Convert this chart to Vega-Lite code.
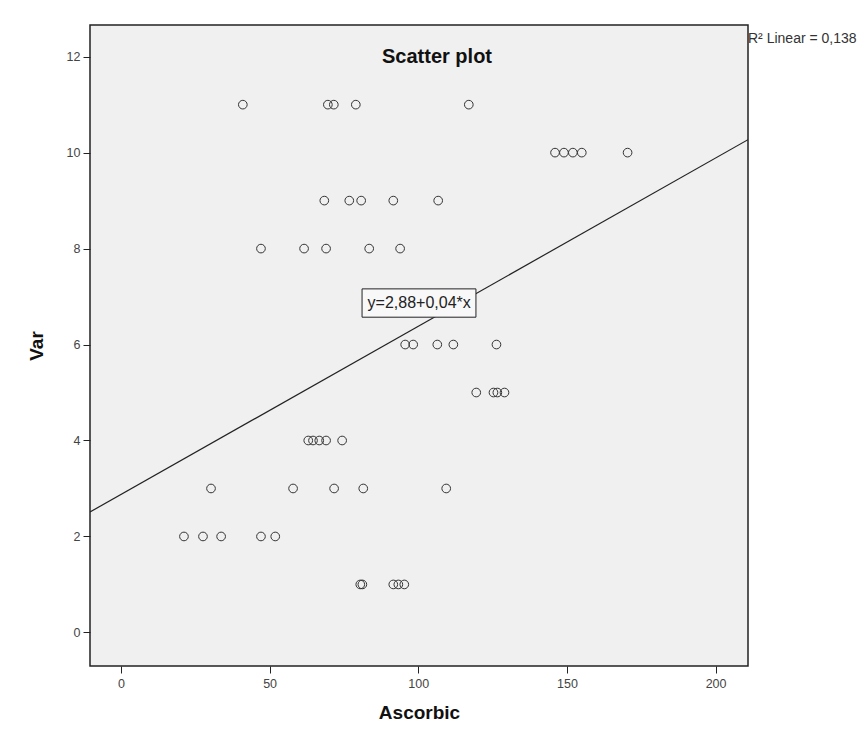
{
  "$schema": "https://vega.github.io/schema/vega-lite/v6.json",
  "width": 658,
  "height": 641,
  "autosize": {"type": "none"},
  "padding": {"left": 90, "top": 25, "right": 115, "bottom": 77},
  "background": "white",
  "config": {
    "view": {"fill": "#f0f0f0", "stroke": "#222222", "strokeWidth": 1.5},
    "font": "Liberation Sans"
  },
  "title": {
    "text": "Scatter plot",
    "offset": -42,
    "dx": 18,
    "anchor": "middle",
    "fontSize": 20,
    "fontWeight": "bold",
    "font": "Liberation Sans",
    "color": "#111111"
  },
  "datasets": {
    "points": [
      {"Ascorbic": 41, "Var": 11},
      {"Ascorbic": 69.6, "Var": 11},
      {"Ascorbic": 71.6, "Var": 11},
      {"Ascorbic": 79, "Var": 11},
      {"Ascorbic": 117, "Var": 11},
      {"Ascorbic": 146, "Var": 10},
      {"Ascorbic": 149, "Var": 10},
      {"Ascorbic": 152, "Var": 10},
      {"Ascorbic": 155, "Var": 10},
      {"Ascorbic": 170.4, "Var": 10},
      {"Ascorbic": 68.4, "Var": 9},
      {"Ascorbic": 76.8, "Var": 9},
      {"Ascorbic": 80.8, "Var": 9},
      {"Ascorbic": 91.6, "Var": 9},
      {"Ascorbic": 106.7, "Var": 9},
      {"Ascorbic": 47.1, "Var": 8},
      {"Ascorbic": 61.6, "Var": 8},
      {"Ascorbic": 69, "Var": 8},
      {"Ascorbic": 83.5, "Var": 8},
      {"Ascorbic": 93.9, "Var": 8},
      {"Ascorbic": 95.6, "Var": 6},
      {"Ascorbic": 98.3, "Var": 6},
      {"Ascorbic": 106.4, "Var": 6},
      {"Ascorbic": 111.8, "Var": 6},
      {"Ascorbic": 126.3, "Var": 6},
      {"Ascorbic": 119.5, "Var": 5},
      {"Ascorbic": 125.3, "Var": 5},
      {"Ascorbic": 126.6, "Var": 5},
      {"Ascorbic": 129, "Var": 5},
      {"Ascorbic": 63, "Var": 4},
      {"Ascorbic": 64.6, "Var": 4},
      {"Ascorbic": 66.7, "Var": 4},
      {"Ascorbic": 69, "Var": 4},
      {"Ascorbic": 74.4, "Var": 4},
      {"Ascorbic": 30.3, "Var": 3},
      {"Ascorbic": 57.9, "Var": 3},
      {"Ascorbic": 71.7, "Var": 3},
      {"Ascorbic": 81.5, "Var": 3},
      {"Ascorbic": 109.4, "Var": 3},
      {"Ascorbic": 21.2, "Var": 2},
      {"Ascorbic": 27.6, "Var": 2},
      {"Ascorbic": 33.7, "Var": 2},
      {"Ascorbic": 47.1, "Var": 2},
      {"Ascorbic": 51.9, "Var": 2},
      {"Ascorbic": 80.5, "Var": 1},
      {"Ascorbic": 81.2, "Var": 1},
      {"Ascorbic": 91.6, "Var": 1},
      {"Ascorbic": 93.3, "Var": 1},
      {"Ascorbic": 95.3, "Var": 1}
    ],
    "fit": [
      {"Ascorbic": -10.4, "Var": 2.51},
      {"Ascorbic": 210.9, "Var": 10.27}
    ]
  },
  "layer": [
    {
      "data": {"name": "points"},
      "mark": {"type": "point", "shape": "circle", "filled": false, "size": 75, "stroke": "#333333", "strokeWidth": 1, "opacity": 1},
      "encoding": {
        "x": {
          "field": "Ascorbic",
          "type": "quantitative",
          "scale": {"domain": [-10.4, 210.9], "nice": false, "zero": false},
          "axis": {
            "values": [0, 50, 100, 150, 200],
            "domain": false,
            "grid": false,
            "tickSize": 7,
            "tickColor": "#222222",
            "labelFontSize": 12.5,
            "labelColor": "#444444",
            "labelPadding": 4,
            "labelFont": "Liberation Sans",
            "title": "Ascorbic",
            "titleFont": "Liberation Sans",
            "titleFontSize": 19,
            "titleFontWeight": "bold",
            "titleColor": "#111111",
            "titlePadding": 14
          }
        },
        "y": {
          "field": "Var",
          "type": "quantitative",
          "scale": {"domain": [-0.7, 12.66], "nice": false, "zero": false},
          "axis": {
            "values": [0, 2, 4, 6, 8, 10, 12],
            "domain": false,
            "grid": false,
            "tickSize": 7,
            "tickColor": "#222222",
            "labelFontSize": 12.5,
            "labelColor": "#444444",
            "labelPadding": 3,
            "labelFont": "Liberation Sans",
            "title": "Var",
            "titleFont": "Liberation Sans",
            "titleFontSize": 19,
            "titleFontWeight": "bold",
            "titleColor": "#111111",
            "titlePadding": 20
          }
        }
      }
    },
    {
      "data": {"name": "fit"},
      "mark": {"type": "line", "color": "#222222", "strokeWidth": 1.2, "clip": true},
      "encoding": {
        "x": {"field": "Ascorbic", "type": "quantitative"},
        "y": {"field": "Var", "type": "quantitative"}
      }
    },
    {
      "data": {"values": [{}]},
      "mark": {"type": "rect", "fill": "#f8f8f8", "stroke": "#222222", "strokeWidth": 1},
      "encoding": {
        "x": {"datum": 81.1},
        "x2": {"datum": 119.4},
        "y": {"datum": 7.16},
        "y2": {"datum": 6.57}
      }
    },
    {
      "data": {"values": [{}]},
      "mark": {"type": "text", "text": "y=2,88+0,04*x", "fontSize": 16, "font": "Liberation Sans", "color": "#222222", "align": "center", "baseline": "middle"},
      "encoding": {
        "x": {"datum": 100.3},
        "y": {"datum": 6.86}
      }
    },
    {
      "data": {"values": [{}]},
      "mark": {"type": "text", "text": "R² Linear = 0,138", "fontSize": 14, "font": "Liberation Sans", "color": "#333333", "align": "left", "baseline": "middle", "dx": 0, "clip": false},
      "encoding": {
        "x": {"datum": 210.9},
        "y": {"datum": 12.36}
      }
    }
  ]
}
